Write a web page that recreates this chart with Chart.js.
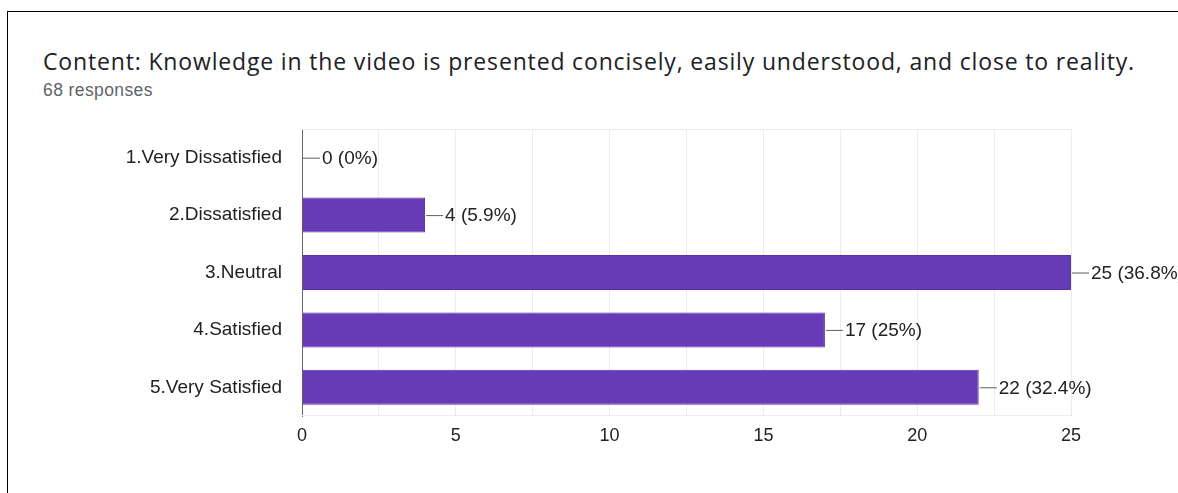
<!DOCTYPE html>
<html>
<head>
<meta charset="utf-8">
<script src="https://cdn.jsdelivr.net/npm/chart.js@4/dist/chart.umd.min.js"></script>
<style>
  html, body { margin: 0; padding: 0; background: #fff; }
  body { width: 1178px; height: 493px; position: relative; overflow: hidden; }
  .frame { position: absolute; left: 7px; top: 11px; width: 1300px; height: 600px;
           border-top: 1px solid #000; border-left: 1px solid #000; }
  .title { position: absolute; left: 43px; top: 45px; font-family: "Open Sans", sans-serif;
           font-size: 23px; color: #202124; white-space: nowrap; }
  .sub { position: absolute; left: 43px; top: 80px; font-family: "Liberation Sans", Arial, sans-serif;
         font-size: 17.5px; letter-spacing: 0.4px; color: #5f6368; white-space: nowrap; }
  canvas { position: absolute; left: 0; top: 0; }
</style>
</head>
<body>
<div class="frame"></div>
<div class="title" id="title"></div>
<div class="sub" id="sub"></div>
<canvas id="c" width="1178" height="493"></canvas>
<script>
const titleText = 'Content: Knowledge in the video is presented concisely, easily understood, and close to reality.';
const responseCount = 68;
const categories = ['1.Very Dissatisfied', '2.Dissatisfied', '3.Neutral', '4.Satisfied', '5.Very Satisfied'];
const counts = [0, 4, 25, 17, 22];
const percents = ['0%', '5.9%', '36.8%', '25%', '32.4%'];
const xTicks = [0, 5, 10, 15, 20, 25];

// Heading: widen the tracking slightly so the line spans the card
const titleEl = document.getElementById('title');
titleEl.textContent = titleText;
const titleWidth = 1092;
const natural = titleEl.getBoundingClientRect().width;
titleEl.style.letterSpacing = Math.max(0, (titleWidth - natural) / titleText.length).toFixed(2) + 'px';
document.getElementById('sub').textContent = responseCount + ' responses';

const fontFamily = '"Liberation Sans", Arial, sans-serif';
const labelFont = '19px ' + fontFamily;

// Value labels with a short leader line after each bar end
const valueLabels = {
  id: 'valueLabels',
  afterDatasetsDraw(chart) {
    const ctx = chart.ctx;
    const meta = chart.getDatasetMeta(0);
    ctx.save();
    ctx.font = labelFont;
    ctx.textBaseline = 'middle';
    meta.data.forEach((bar, i) => {
      const x = bar.x + 1;
      const y = bar.y;
      ctx.strokeStyle = '#5f5f5f';
      ctx.lineWidth = 1;
      ctx.beginPath();
      ctx.moveTo(x, y + 0.5);
      ctx.lineTo(x + 17, y + 0.5);
      ctx.stroke();
      ctx.fillStyle = '#222';
      ctx.fillText(counts[i] + ' (' + percents[i] + ')', x + 19, y + 1);
    });
    ctx.restore();
  }
};

// Faint frame at top and bottom of the plot area
const plotFrame = {
  id: 'plotFrame',
  beforeDatasetsDraw(chart) {
    const { ctx, chartArea: a } = chart;
    ctx.save();
    ctx.strokeStyle = '#ececec';
    ctx.lineWidth = 1;
    ctx.beginPath();
    ctx.moveTo(a.left, a.top + 0.5); ctx.lineTo(a.right, a.top + 0.5);
    ctx.moveTo(a.left, a.bottom - 0.5); ctx.lineTo(a.right, a.bottom - 0.5);
    ctx.stroke();
    ctx.restore();
  }
};

new Chart(document.getElementById('c'), {
  type: 'bar',
  data: {
    labels: categories,
    datasets: [{
      data: counts,
      backgroundColor: '#673ab7',
      borderColor: '#5a32a3',
      borderWidth: 1,
      barPercentage: 0.61,
      categoryPercentage: 1
    }]
  },
  options: {
    indexAxis: 'y',
    responsive: false,
    animation: false,
    layout: { padding: { left: 0, right: 107, top: 129, bottom: 0 } },
    plugins: { legend: { display: false }, tooltip: { enabled: false } },
    scales: {
      x: {
        min: 0, max: 25,
        afterFit(s) { s.height = 77; },
        grid: { color: '#ececec', drawTicks: false },
        border: { display: false },
        ticks: {
          stepSize: 2.5,
          padding: 9,
          color: '#222',
          font: { family: fontFamily, size: 18 },
          callback: v => xTicks.includes(v) ? String(v) : ''
        }
      },
      y: {
        afterFit(s) { s.width = 302; },
        grid: { display: false, drawTicks: false },
        border: { display: true, color: '#666', width: 1 },
        ticks: {
          padding: 20,
          color: '#222',
          font: { family: fontFamily, size: 19 }
        }
      }
    }
  },
  plugins: [plotFrame, valueLabels]
});
</script>
</body>
</html>
